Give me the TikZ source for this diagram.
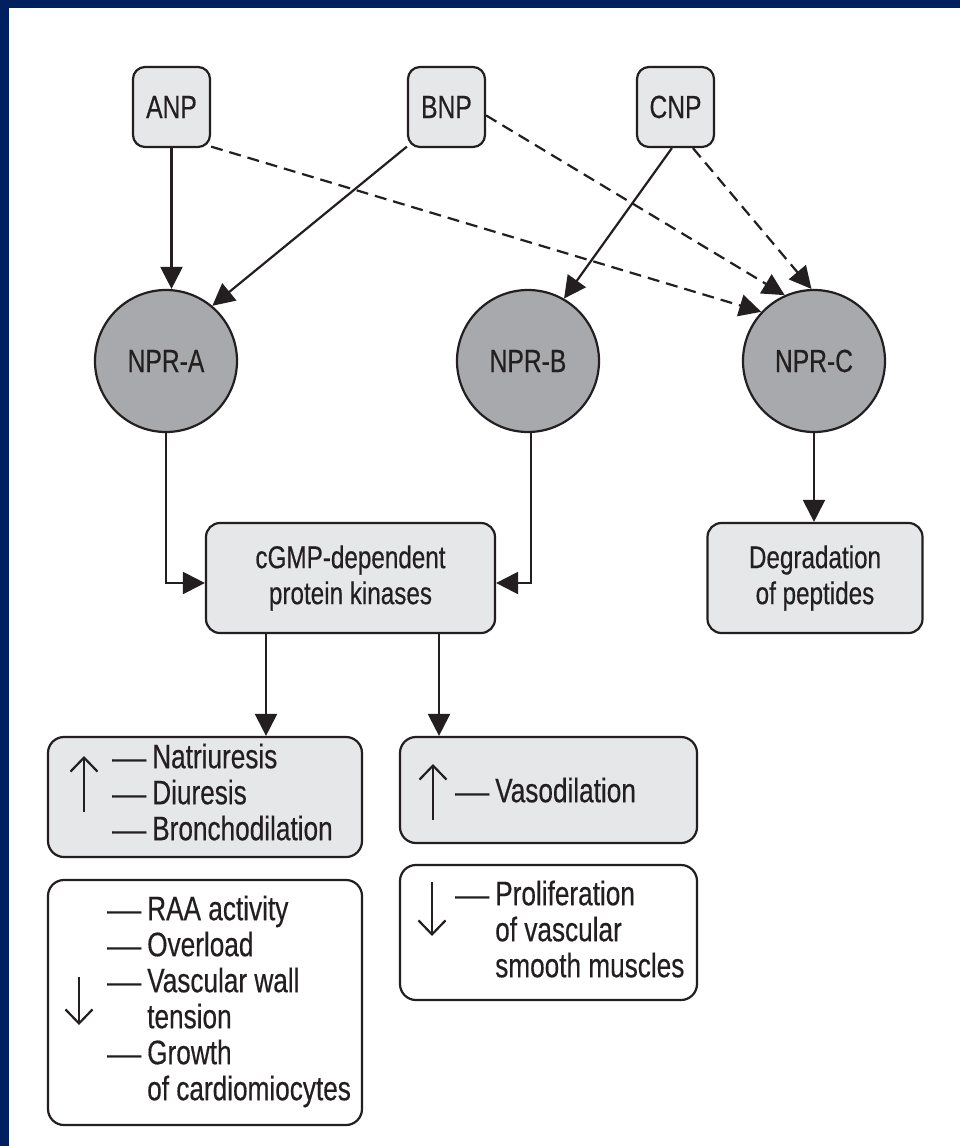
\documentclass[tikz,border=0pt]{standalone}
\usepackage{fontspec}
\setmainfont{Liberation Sans}[FakeStretch=0.77,FakeBold=0.4]
\usetikzlibrary{arrows.meta,calc}
\definecolor{frame}{HTML}{002060}
\definecolor{boxfill}{HTML}{E6E7E8}
\definecolor{circfill}{HTML}{A7A9AC}
\definecolor{ink}{HTML}{231F20}
\newcommand{\dashitem}{\scalebox{1.3}[0.9]{—}}
\tikzset{
  pep/.style={draw=ink, fill=boxfill, rounded corners=12pt, line width=2.2pt,
    minimum width=77pt, minimum height=80pt, inner sep=0pt,
    font=\fontsize{32}{36}\selectfont, text=ink},
  rec/.style={draw=ink, fill=circfill, circle, line width=2.2pt,
    minimum size=142pt, inner sep=0pt, font=\fontsize{32}{36}\selectfont, text=ink},
  proc/.style={draw=ink, fill=boxfill, rounded corners=14pt, line width=2.2pt,
    inner sep=0pt, align=center, font=\fontsize{31.5}{36}\selectfont, text=ink},
  effup/.style={draw=ink, fill=boxfill, rounded corners=16pt, line width=2.2pt, inner sep=0pt},
  effdn/.style={draw=ink, fill=white, rounded corners=16pt, line width=2.2pt, inner sep=0pt},
  lst/.style={inner sep=0pt, anchor=west, text=ink, font=\fontsize{34}{36}\selectfont},
  arr/.style={draw=ink, line width=2.2pt, -{Triangle[length=22pt,width=22pt]}},
  darr/.style={arr, dash pattern=on 12pt off 7pt},
  sym/.style={draw=ink, line width=2.2pt, -{Straight Barb[length=14pt,width=27pt]}}
}
\begin{document}
\begin{tikzpicture}[x=1pt,y=-1pt]
\useasboundingbox (0,0) rectangle (960,1146);
\fill[white] (0,0) rectangle (960,1146);
\fill[frame] (0,0) rectangle (960,8);
\fill[frame] (0,0) rectangle (9,1146);

% peptides
\node[pep] (ANP) at (171.5,107) {ANP};
\node[pep] (BNP) at (446.5,107) {BNP};
\node[pep] (CNP) at (675.5,107) {CNP};

% receptors
\node[rec] (NPRA) at (166,361) {NPR-A};
\node[rec] (NPRB) at (528,361) {NPR-B};
\node[rec] (NPRC) at (814,361) {NPR-C};

% processes
\node[proc, minimum width=289pt, minimum height=110pt] (cgmp) at (350.5,578)
  {cGMP-dependent\\protein kinases};
\node[proc, minimum width=215pt, minimum height=110pt] (deg) at (815,578)
  {Degradation\\of peptides};

% effect boxes
\node[effup, minimum width=314pt, minimum height=120pt] (box1) at (205,797) {};
\node[effup, minimum width=297pt, minimum height=106pt] (box2) at (548.5,790) {};
\node[effdn, minimum width=314pt, minimum height=245pt] (box3) at (205,1002.5) {};
\node[effdn, minimum width=297pt, minimum height=135pt] (box4) at (548.5,932.5) {};

\node[lst] (t1) at (112,797) {\begin{tabular}{@{}l@{\hspace{6pt}}l@{}}
\dashitem & Natriuresis\\ \dashitem & Diuresis\\ \dashitem & Bronchodilation\end{tabular}};
\node[lst] (t2) at (455,795) {\begin{tabular}{@{}l@{\hspace{6pt}}l@{}}
\dashitem & Vasodilation\end{tabular}};
\node[lst] (t3) at (107,1003) {\begin{tabular}{@{}l@{\hspace{6pt}}l@{}}
\dashitem & RAA activity\\ \dashitem & Overload\\ \dashitem & Vascular wall\\
 & tension\\ \dashitem & Growth\\ & of cardiomiocytes\end{tabular}};
\node[lst] (t4) at (455,934) {\begin{tabular}{@{}l@{\hspace{6pt}}l@{}}
\dashitem & Proliferation\\ & of vascular\\ & smooth muscles\end{tabular}};

% up/down symbols
\draw[sym] (84,812) -- (84,756);
\draw[sym] (433,820) -- (433,764);
\draw[sym] (79,977) -- (79,1025);
\draw[sym] (432,882) -- (432,936);

% connectors
\draw[arr] (ANP.south) -- (ANP.south |- NPRA.north);
\draw[arr] (BNP.225) -- (NPRA.50);
\draw[darr] (ANP.-45) -- (NPRC.137);
\draw[darr] (BNP.-12) -- (NPRC.114);
\draw[arr] (CNP.-95) -- (NPRB.60);
\draw[darr] (CNP.-67) -- (NPRC.92);

\draw[arr] (NPRA.south) |- ([yshift=-5pt]cgmp.west);
\draw[arr] ([xshift=3pt]NPRB.south) |- ([yshift=-5pt]cgmp.east);
\draw[arr] (NPRC.south) -- (NPRC.south |- deg.north);

\draw[arr] ([xshift=-84.5pt]cgmp.south) -- ([xshift=-84.5pt]cgmp.south |- box1.north);
\draw[arr] ([xshift=88.5pt]cgmp.south) -- ([xshift=88.5pt]cgmp.south |- box2.north);
\end{tikzpicture}
\end{document}
